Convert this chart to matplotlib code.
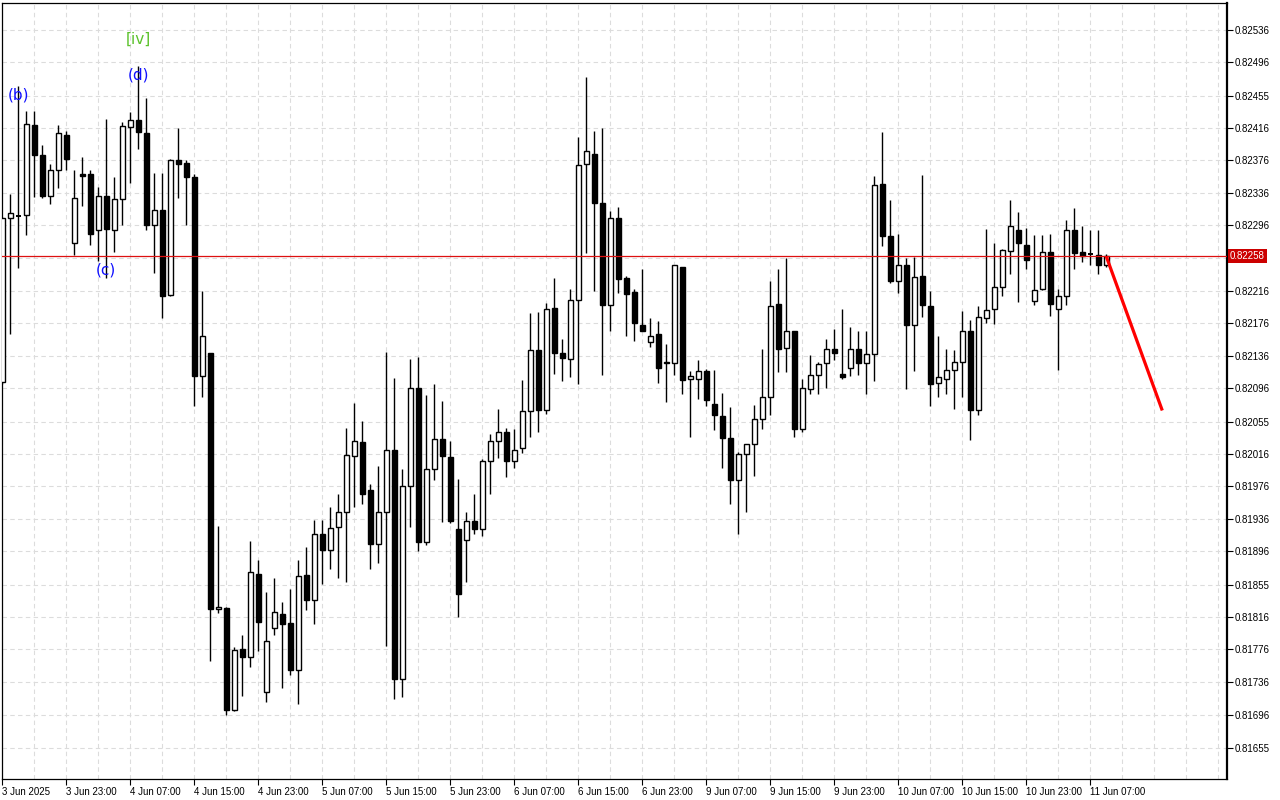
import matplotlib
matplotlib.use("Agg")
import matplotlib.pyplot as plt
import matplotlib.transforms as mtransforms

# H1 candles (index 0 = 3 Jun 2025 15:00)
opens = [0.82104, 0.82305, 0.82308, 0.82309, 0.82419, 0.82382, 0.82332, 0.82364, 0.82407, 0.82274,
         0.82359, 0.82359, 0.82290, 0.82332, 0.82290, 0.82329, 0.82417, 0.82425, 0.82409, 0.82296,
         0.82315, 0.82211, 0.82376, 0.82372, 0.82355, 0.82111, 0.82139, 0.81826, 0.81827, 0.81702,
         0.81776, 0.81767, 0.81869, 0.81724, 0.81802, 0.81819, 0.81808, 0.81751, 0.81867, 0.81837,
         0.81918, 0.81898, 0.81926, 0.81945, 0.82013, 0.82030, 0.81971, 0.81905, 0.81944, 0.82020,
         0.81739, 0.81976, 0.82096, 0.81908, 0.81997, 0.82034, 0.82012, 0.81923, 0.81910, 0.81934,
         0.81923, 0.82007, 0.82031, 0.82042, 0.82007, 0.82023, 0.82068, 0.82143, 0.82069, 0.82195,
         0.82139, 0.82132, 0.82204, 0.82371, 0.82384, 0.82323, 0.82198, 0.82305, 0.82231, 0.82214,
         0.82174, 0.82153, 0.82163, 0.82127, 0.82127, 0.82245, 0.82108, 0.82108, 0.82118, 0.82077,
         0.82062, 0.82035, 0.81984, 0.82015, 0.82028, 0.82059, 0.82085, 0.82200, 0.82146, 0.82166,
         0.82046, 0.82095, 0.82112, 0.82127, 0.82144, 0.82114, 0.82121, 0.82144, 0.82127, 0.82138,
         0.82347, 0.82283, 0.82228, 0.82247, 0.82174, 0.82234, 0.82197, 0.82103, 0.82108, 0.82119,
         0.82128, 0.82166, 0.82070, 0.82182, 0.82193, 0.82220, 0.82265, 0.82291, 0.82272, 0.82203,
         0.82218, 0.82263, 0.82194, 0.82210, 0.82290, 0.82263, 0.82261, 0.82260, 0.82248]
highs = [0.82306, 0.82335, 0.82467, 0.82437, 0.82437, 0.82395, 0.82371, 0.82419, 0.82412, 0.82364,
         0.82380, 0.82364, 0.82343, 0.82427, 0.82356, 0.82423, 0.82435, 0.82491, 0.82452, 0.82360,
         0.82360, 0.82377, 0.82416, 0.82376, 0.82359, 0.82215, 0.82139, 0.81927, 0.81828, 0.81779,
         0.81793, 0.81909, 0.81886, 0.81846, 0.81863, 0.81834, 0.81850, 0.81886, 0.81901, 0.81935,
         0.81935, 0.81951, 0.81966, 0.82047, 0.82078, 0.82056, 0.81979, 0.82001, 0.82141, 0.82109,
         0.81997, 0.82132, 0.82135, 0.82088, 0.82101, 0.82081, 0.82032, 0.81985, 0.81945, 0.81966,
         0.82009, 0.82040, 0.82071, 0.82047, 0.82046, 0.82106, 0.82189, 0.82190, 0.82201, 0.82231,
         0.82157, 0.82218, 0.82404, 0.82478, 0.82412, 0.82416, 0.82314, 0.82319, 0.82234, 0.82218,
         0.82242, 0.82182, 0.82179, 0.82150, 0.82247, 0.82245, 0.82118, 0.82131, 0.82120, 0.82119,
         0.82090, 0.82073, 0.82018, 0.82028, 0.82076, 0.82144, 0.82228, 0.82242, 0.82256, 0.82167,
         0.82108, 0.82137, 0.82128, 0.82157, 0.82169, 0.82193, 0.82172, 0.82166, 0.82166, 0.82357,
         0.82411, 0.82327, 0.82285, 0.82256, 0.82257, 0.82358, 0.82215, 0.82160, 0.82145, 0.82143,
         0.82191, 0.82180, 0.82197, 0.82292, 0.82274, 0.82267, 0.82327, 0.82312, 0.82293, 0.82284,
         0.82284, 0.82286, 0.82218, 0.82303, 0.82317, 0.82295, 0.82290, 0.82291, 0.82261]
lows = [0.82102, 0.82163, 0.82244, 0.82284, 0.82331, 0.82330, 0.82322, 0.82342, 0.82364, 0.82260,
        0.82320, 0.82272, 0.82252, 0.82232, 0.82264, 0.82297, 0.82348, 0.82390, 0.82290, 0.82238,
        0.82183, 0.82210, 0.82330, 0.82296, 0.82074, 0.82085, 0.81762, 0.81821, 0.81696, 0.81700,
        0.81719, 0.81754, 0.81774, 0.81711, 0.81794, 0.81729, 0.81745, 0.81709, 0.81824, 0.81807,
        0.81856, 0.81875, 0.81864, 0.81859, 0.81950, 0.81954, 0.81875, 0.81882, 0.81780, 0.81715,
        0.81718, 0.81926, 0.81896, 0.81904, 0.81984, 0.81932, 0.81931, 0.81816, 0.81859, 0.81918,
        0.81915, 0.81966, 0.82011, 0.81987, 0.81998, 0.82017, 0.82037, 0.82042, 0.82065, 0.82114,
        0.82105, 0.82110, 0.82101, 0.82262, 0.82215, 0.82113, 0.82167, 0.82213, 0.82160, 0.82154,
        0.82166, 0.82147, 0.82103, 0.82080, 0.82113, 0.82089, 0.82036, 0.82083, 0.82074, 0.82045,
        0.81999, 0.81954, 0.81918, 0.81945, 0.81989, 0.82046, 0.82064, 0.82116, 0.82116, 0.82036,
        0.82042, 0.82089, 0.82089, 0.82096, 0.82131, 0.82108, 0.82111, 0.82113, 0.82089, 0.82105,
        0.82271, 0.82225, 0.82213, 0.82095, 0.82118, 0.82184, 0.82074, 0.82085, 0.82089, 0.82071,
        0.82085, 0.82033, 0.82064, 0.82176, 0.82175, 0.82209, 0.82237, 0.82202, 0.82242, 0.82199,
        0.82217, 0.82185, 0.82119, 0.82199, 0.82242, 0.82251, 0.82247, 0.82237, 0.82245]
closes = [0.82305, 0.82311, 0.82308, 0.82421, 0.82383, 0.82332, 0.82364, 0.82410, 0.82378, 0.82330,
          0.82357, 0.82286, 0.82332, 0.82292, 0.82329, 0.82418, 0.82425, 0.82411, 0.82297, 0.82315,
          0.82210, 0.82376, 0.82371, 0.82355, 0.82111, 0.82160, 0.81826, 0.81828, 0.81702, 0.81775,
          0.81767, 0.81871, 0.81809, 0.81786, 0.81822, 0.81807, 0.81751, 0.81866, 0.81837, 0.81917,
          0.81898, 0.81925, 0.81945, 0.82014, 0.82032, 0.81966, 0.81905, 0.81944, 0.82021, 0.81740,
          0.81976, 0.82096, 0.81908, 0.81997, 0.82034, 0.82013, 0.81933, 0.81844, 0.81934, 0.81923,
          0.82007, 0.82031, 0.82042, 0.82007, 0.82021, 0.82068, 0.82143, 0.82069, 0.82194, 0.82139,
          0.82133, 0.82204, 0.82370, 0.82387, 0.82323, 0.82198, 0.82305, 0.82230, 0.82212, 0.82176,
          0.82166, 0.82160, 0.82121, 0.82129, 0.82247, 0.82106, 0.82111, 0.82118, 0.82082, 0.82064,
          0.82035, 0.81984, 0.82015, 0.82028, 0.82059, 0.82085, 0.82197, 0.82145, 0.82166, 0.82046,
          0.82096, 0.82112, 0.82126, 0.82144, 0.82139, 0.82110, 0.82144, 0.82127, 0.82138, 0.82346,
          0.82283, 0.82228, 0.82247, 0.82174, 0.82233, 0.82198, 0.82102, 0.82110, 0.82119, 0.82128,
          0.82167, 0.82070, 0.82184, 0.82192, 0.82220, 0.82266, 0.82295, 0.82274, 0.82253, 0.82217,
          0.82263, 0.82200, 0.82210, 0.82291, 0.82262, 0.82259, 0.82261, 0.82247, 0.82258]

# time axis labels, one every 8 bars
date_labels = ["3 Jun 2025", "3 Jun 23:00", "4 Jun 07:00", "4 Jun 15:00", "4 Jun 23:00",
               "5 Jun 07:00", "5 Jun 15:00", "5 Jun 23:00", "6 Jun 07:00", "6 Jun 15:00",
               "6 Jun 23:00", "9 Jun 07:00", "9 Jun 15:00", "9 Jun 23:00", "10 Jun 07:00",
               "10 Jun 15:00", "10 Jun 23:00", "11 Jun 07:00"]
price_ticks = [0.82536, 0.82496, 0.82455, 0.82416, 0.82376, 0.82336, 0.82296, 0.82216,
               0.82176, 0.82136, 0.82096, 0.82055, 0.82016, 0.81976, 0.81936, 0.81896,
               0.81855, 0.81816, 0.81776, 0.81736, 0.81696, 0.81655]
hidden_tick = 0.82256
bid_price = 0.82258

# forecast arrow (bar index, price)
forecast_x = [138, 145]
forecast_y = [0.82258, 0.82069]

# wave marks: (text, bar index, colour)
wave_marks = [("(b)", 2, "#1010ff"), ("(c)", 13, "#1010ff"), ("(d)", 17, "#1010ff"), ("[iv]", 17, "#5cc22c")]

fig = plt.figure(figsize=(12.8, 8), dpi=100)
ax = fig.add_axes([2 / 1280, 21 / 800, 1225 / 1280, 776 / 800])
ax.set_xlim(-0.04, 153.09)
ax.set_ylim(0.816169, 0.825689)

grid_style = dict(color="#dcdcdc", linewidth=0.8, linestyle=(0, (4, 3)), zorder=0)
for gx in range(0, 154, 4):
    ax.axvline(gx, **grid_style)
for gy in price_ticks + [hidden_tick]:
    ax.axhline(gy, **grid_style)

# candles
n = len(opens)
xs = list(range(n))
ax.vlines(xs, lows, highs, color="black", linewidth=1.0, zorder=2)
for i in xs:
    o, c = opens[i], closes[i]
    bottom = min(o, c)
    height = abs(c - o)
    face = "white" if c >= o else "black"
    if height < 0.000015:
        ax.hlines((o + c) / 2, i - 0.32, i + 0.32, color="black", linewidth=1.4, zorder=3)
    else:
        ax.bar(i, height, bottom=bottom, width=0.62, facecolor=face,
               edgecolor="black", linewidth=1.0, zorder=3)

# bid line and forecast
ax.axhline(bid_price, color="#dd1010", linewidth=0.9, zorder=4)
ax.plot(forecast_x, forecast_y, color="#ff0000", linewidth=2.3, solid_capstyle="butt", zorder=5)

# wave labels
for text, idx, col in wave_marks:
    if text == "(c)":
        ax.annotate(text, (idx, lows[idx]), xytext=(0, 0), textcoords="offset points",
                    ha="center", va="bottom", fontsize=11, color=col, zorder=6)
    elif text == "[iv]":
        ax.annotate(text, (idx, highs[idx]), xytext=(0, 25), textcoords="offset points",
                    ha="center", va="top", fontsize=11, color=col, zorder=6)
    else:
        ax.annotate(text, (idx, highs[idx]), xytext=(0, -1), textcoords="offset points",
                    ha="center", va="top", fontsize=11, color=col, zorder=6)

# axes styling
ax.yaxis.tick_right()
ax.set_yticks(price_ticks)
ax.set_yticklabels(["%.5f" % v for v in price_ticks])
ax.set_xticks(list(range(0, 8 * len(date_labels), 8)))
ax.set_xticklabels(date_labels, ha="left")
ax.tick_params(axis="both", direction="out", length=4, width=0.8, labelsize=7, pad=1.5)
for lab in ax.get_xticklabels() + ax.get_yticklabels():
    lab.set_fontfamily("Liberation Sans")

for side in ["top", "bottom", "left"]:
    ax.spines[side].set_linewidth(0.9)
ax.spines["right"].set_linewidth(1.6)

trans = mtransforms.blended_transform_factory(ax.transAxes, ax.transData)
ax.text(1.0025, bid_price, "%.5f" % bid_price, transform=trans, ha="left", va="center",
        fontsize=7, color="white", family="Liberation Sans", clip_on=False, zorder=10,
        bbox=dict(boxstyle="square,pad=0.2", facecolor="#cc0000", edgecolor="none"))

fig.savefig("out.png", dpi=100)
